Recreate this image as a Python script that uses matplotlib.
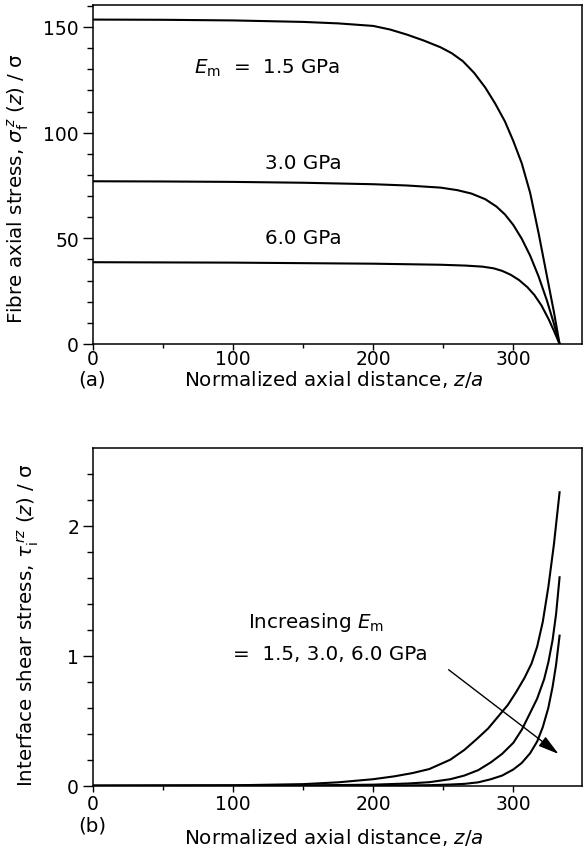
import matplotlib
matplotlib.use("Agg")
import matplotlib.pyplot as plt
from matplotlib.ticker import MultipleLocator

plt.rcParams['font.family'] = ['DejaVu Sans']
plt.rcParams['mathtext.fontset'] = 'dejavusans'

# ---------------- data ----------------
# (a) fibre axial stress sigma_f^z(z)/sigma vs z/a
z_a15 = [0, 50, 100, 150, 175, 200, 212, 224, 236, 248, 256, 264, 272, 280, 287, 294, 300, 306, 312, 318, 324, 329, 333]
s_a15 = [153.5, 153.4, 153.1, 152.4, 151.7, 150.5, 148.8, 146.4, 143.6, 140.4, 137.6, 133.8, 128.3, 121.3, 113.8, 105.3, 96.0, 85.5, 71.5, 52.5, 32.0, 15.0, 0.0]

z_a30 = [0, 50, 100, 150, 200, 224, 248, 260, 270, 280, 288, 294, 300, 306, 312, 318, 324, 329, 333]
s_a30 = [77.0, 76.9, 76.7, 76.3, 75.6, 75.0, 74.0, 72.8, 71.2, 68.5, 65.0, 61.3, 56.3, 49.8, 41.8, 32.0, 20.5, 9.5, 0.0]

z_a60 = [0, 100, 200, 248, 266, 278, 286, 292, 298, 304, 310, 315, 320, 325, 329, 333]
s_a60 = [38.7, 38.5, 38.0, 37.5, 37.1, 36.6, 35.8, 34.6, 32.8, 30.3, 26.9, 23.2, 18.3, 12.0, 6.2, 0.0]

# (b) interface shear stress tau_i^rz(z)/sigma vs z/a
z_b15 = [0, 100, 150, 175, 200, 215, 228, 240, 255, 265, 274, 282, 289, 296, 302, 308, 313, 317, 321, 325, 329, 333]
t_b15 = [0.0, 0.003, 0.012, 0.026, 0.050, 0.072, 0.097, 0.128, 0.200, 0.275, 0.360, 0.440, 0.530, 0.620, 0.720, 0.830, 0.940, 1.070, 1.260, 1.530, 1.860, 2.257]

z_b30 = [0, 150, 200, 225, 240, 255, 265, 275, 284, 292, 300, 306, 312, 317, 322, 325, 328, 330.5, 333]
t_b30 = [0.0, 0.002, 0.008, 0.017, 0.027, 0.050, 0.078, 0.120, 0.180, 0.245, 0.330, 0.430, 0.560, 0.670, 0.820, 0.950, 1.120, 1.320, 1.603]

z_b60 = [0, 200, 240, 255, 265, 275, 284, 292, 300, 306, 312, 317, 321, 325, 328, 330.5, 333]
t_b60 = [0.0, 0.0, 0.004, 0.009, 0.014, 0.026, 0.050, 0.078, 0.125, 0.175, 0.250, 0.340, 0.450, 0.600, 0.760, 0.930, 1.154]

labels_a = [r"$E_{\rm m}$  =  1.5 GPa", "3.0 GPa", "6.0 GPa"]
label_b1 = r"Increasing $E_{\rm m}$"
label_b2 = "=  1.5, 3.0, 6.0 GPa"

# ---------------- figure ----------------
W, H = 584, 854
fig = plt.figure(figsize=(W / 100, H / 100), dpi=100)
ax1 = fig.add_axes([93 / W, 1 - 345 / H, 489 / W, 339 / H])
ax2 = fig.add_axes([93 / W, 1 - 786.7 / H, 489 / W, 337.4 / H])

FS = 14.3      # labels and annotations
TFS = 13.5     # tick labels
LW = 1.5

def style(ax, ymaj, ymin, xpad):
    for s in ax.spines.values():
        s.set_linewidth(1.1)
    ax.xaxis.set_major_locator(MultipleLocator(100))
    ax.xaxis.set_minor_locator(MultipleLocator(50))
    ax.yaxis.set_major_locator(MultipleLocator(ymaj))
    ax.yaxis.set_minor_locator(MultipleLocator(ymin))
    ax.tick_params(axis='y', which='major', direction='out', length=7, width=1.0, labelsize=TFS, pad=3)
    ax.tick_params(axis='y', which='minor', direction='out', length=4.3, width=1.0)
    ax.tick_params(axis='x', which='major', direction='out', length=4.3, width=1.0, labelsize=TFS, pad=xpad)
    ax.tick_params(axis='x', which='minor', direction='out', length=3.2, width=1.0)

# panel (a)
ax1.plot(z_a15, s_a15, color='black', lw=LW)
ax1.plot(z_a30, s_a30, color='black', lw=LW)
ax1.plot(z_a60, s_a60, color='black', lw=LW)
ax1.set_xlim(0, 349)
ax1.set_ylim(0, 160.4)
style(ax1, 50, 10, -1)
ax1.text(72, 131, labels_a[0], fontsize=FS, ha='left', va='center')
ax1.text(123, 86, labels_a[1], fontsize=FS, ha='left', va='center')
ax1.text(123, 50.6, labels_a[2], fontsize=FS, ha='left', va='center')
ax1.set_xlabel(r"Normalized axial distance, $z/a$", fontsize=FS)
ax1.xaxis.label.set_va('center')
ax1.xaxis.set_label_coords(0.493, -0.103)
ax1.set_ylabel(r"Fibre axial stress, $\sigma_{\rm f}^{\,z}$ ($z$) / σ", fontsize=FS)
ax1.yaxis.label.set_va('center')
ax1.yaxis.set_label_coords(-0.153, 0.463)

# panel (b)
ax2.plot(z_b15, t_b15, color='black', lw=LW)
ax2.plot(z_b30, t_b30, color='black', lw=LW)
ax2.plot(z_b60, t_b60, color='black', lw=LW)
ax2.set_xlim(0, 349)
ax2.set_ylim(0, 2.595)
style(ax2, 1, 0.2, 2)
ax2.text(110.7, 1.265, label_b1, fontsize=FS, ha='left', va='center')
ax2.text(100, 1.013, label_b2, fontsize=FS, ha='left', va='center')
ax2.annotate("", xy=(332.3, 0.244), xytext=(253.8, 0.892),
             arrowprops=dict(arrowstyle='-|>,head_length=0.9,head_width=0.25',
                             color='black', lw=1.0, mutation_scale=14,
                             shrinkA=0, shrinkB=0))
ax2.set_xlabel(r"Normalized axial distance, $z/a$", fontsize=FS)
ax2.xaxis.label.set_va('center')
ax2.xaxis.set_label_coords(0.493, -0.152)
ax2.set_ylabel(r"Interface shear stress, $\tau_{\rm i}^{\,rz}$ ($z$) / σ", fontsize=FS)
ax2.yaxis.label.set_va('center')
ax2.yaxis.set_label_coords(-0.133, 0.479)

fig.text(92 / W, 1 - 380 / H, "(a)", fontsize=FS, ha='center', va='center')
fig.text(92 / W, 1 - 826 / H, "(b)", fontsize=FS, ha='center', va='center')

fig.savefig("out.png", dpi=100)
